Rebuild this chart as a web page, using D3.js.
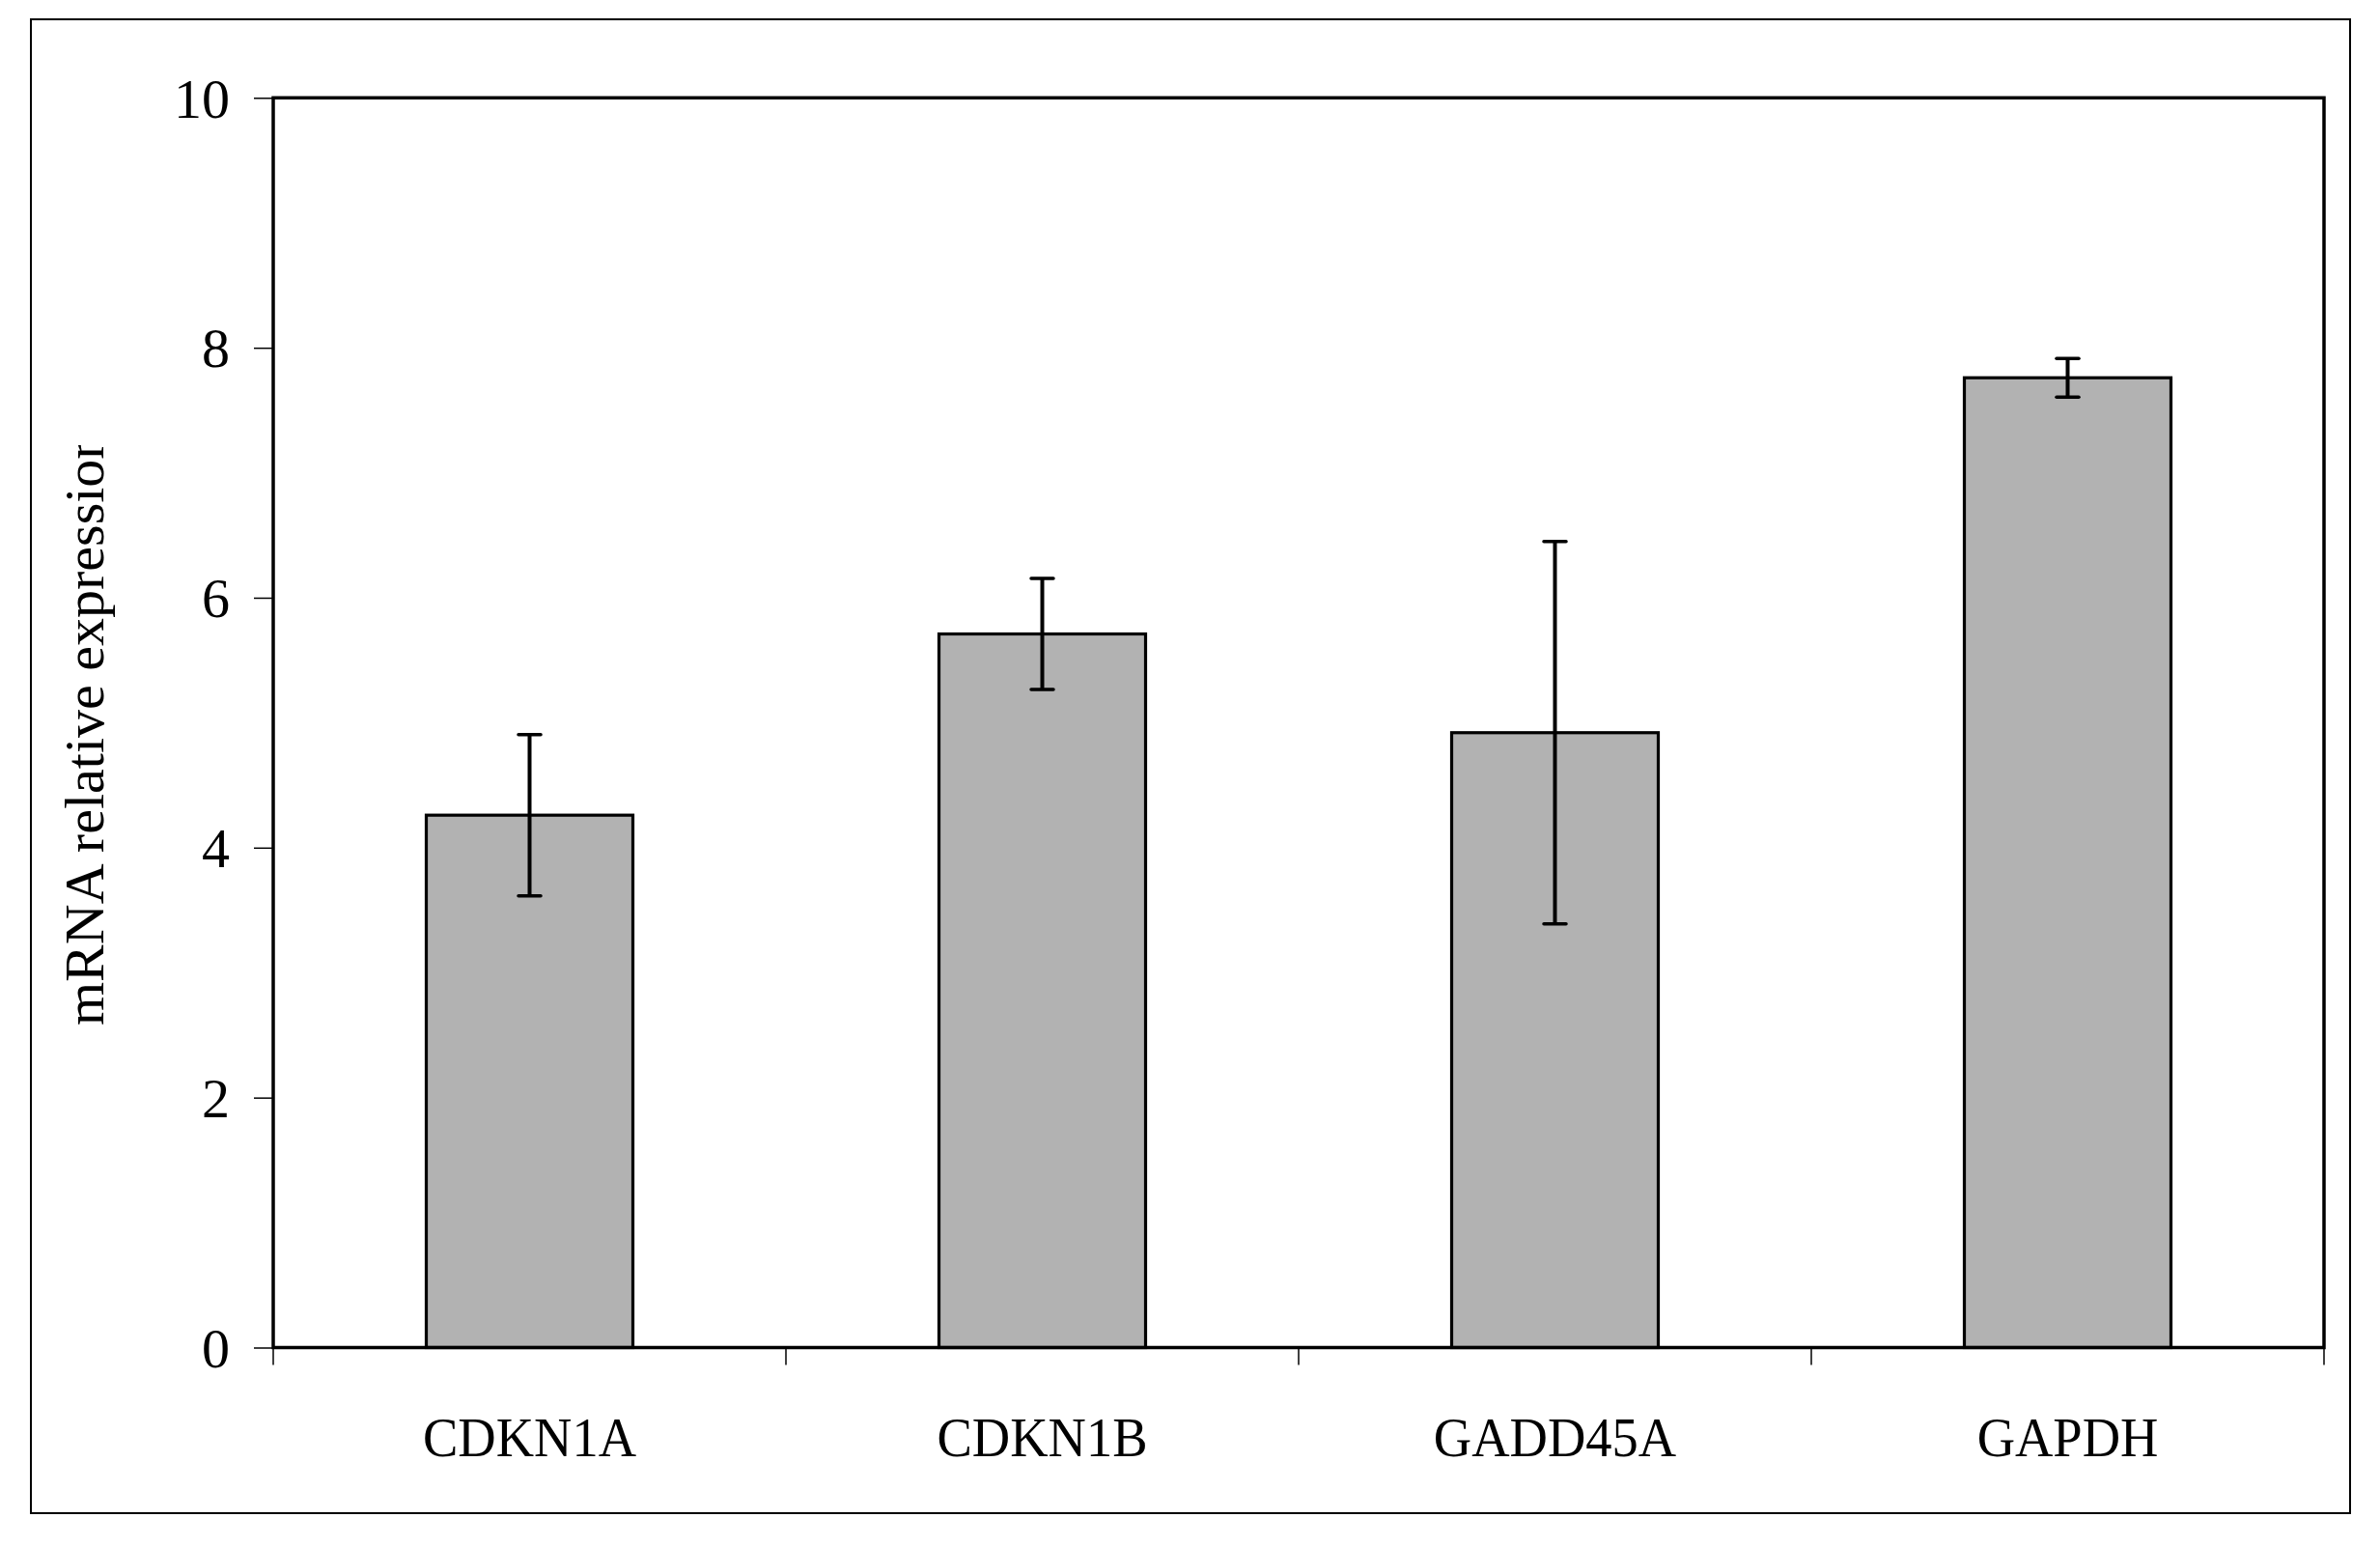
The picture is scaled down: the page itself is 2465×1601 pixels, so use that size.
<!DOCTYPE html>
<html>
<head>
<meta charset="utf-8">
<script src="https://cdn.jsdelivr.net/npm/d3@7"></script>
<style>
  html, body { margin: 0; padding: 0; background: #fff; }
  svg { display: block; }
  text { font-family: "Liberation Serif", "Times New Roman", serif; fill: #000; }
</style>
</head>
<body>
<svg id="chart" width="2465" height="1601"></svg>
<script>
const categories = ["CDKN1A", "CDKN1B", "GADD45A", "GAPDH"];
const values = [4.26, 5.71, 4.92, 7.76];
const errors = [0.645, 0.445, 1.53, 0.155];
const yTicks = [0, 2, 4, 6, 8, 10];
const yLabel = "mRNA relative expression";

const svg = d3.select("#chart");
const W = 2465, H = 1601;
const plot = { left: 283, right: 2407, top: 101.3, bottom: 1395.5 };

svg.append("rect").attr("width", W).attr("height", H).attr("fill", "#fff");

// outer border
svg.append("rect")
  .attr("x", 32).attr("y", 20).attr("width", 2434 - 32).attr("height", 1567 - 20)
  .attr("fill", "none").attr("stroke", "#000").attr("stroke-width", 2);

const x = d3.scaleBand().domain(categories)
  .range([plot.left, plot.right]).paddingInner(0.597).paddingOuter(0.2985);
const y = d3.scaleLinear().domain([0, 10]).range([plot.bottom, plot.top]);

// y axis ticks and labels
const yAxis = d3.axisLeft(y).tickValues(yTicks).tickSize(20).tickPadding(25).tickFormat(d3.format("d"));
const gy = svg.append("g").attr("transform", `translate(${plot.left},0)`).call(yAxis);
gy.select(".domain").remove();
gy.selectAll(".tick line").attr("stroke", "#000").attr("stroke-width", 1.5);
gy.selectAll(".tick text")
  .attr("font-size", 58).attr("dy", "0.34em").attr("x", -45)
  .style("font-family", "'Liberation Serif', serif");

// x axis: ticks at band boundaries
const step = x.step();
const boundaries = d3.range(categories.length + 1).map(i => plot.left + i * step);
svg.append("g").selectAll("line").data(boundaries).join("line")
  .attr("x1", d => d).attr("x2", d => d)
  .attr("y1", plot.bottom).attr("y2", plot.bottom + 18)
  .attr("stroke", "#000").attr("stroke-width", 1.5);

// category labels
svg.append("g").selectAll("text").data(categories).join("text")
  .attr("transform", d => `translate(${x(d) + x.bandwidth() / 2},1508) scale(0.94,1)`)
  .attr("text-anchor", "middle").attr("font-size", 58)
  .text(d => d);

// bars
svg.append("g").selectAll("rect").data(categories).join("rect")
  .attr("x", d => x(d)).attr("width", x.bandwidth())
  .attr("y", (d, i) => y(values[i]))
  .attr("height", (d, i) => y(0) - y(values[i]))
  .attr("fill", "#b2b2b2").attr("stroke", "#000").attr("stroke-width", 3.2);

// error bars
const eg = svg.append("g");
categories.forEach((c, i) => {
  const cx = x(c) + x.bandwidth() / 2;
  const hi = y(values[i] + errors[i]), lo = y(values[i] - errors[i]);
  eg.append("line").attr("x1", cx).attr("x2", cx).attr("y1", hi).attr("y2", lo)
    .attr("stroke", "#000").attr("stroke-width", 4);
  [hi, lo].forEach(v => {
    eg.append("line").attr("x1", cx - 11.5).attr("x2", cx + 11.5).attr("y1", v).attr("y2", v)
      .attr("stroke", "#000").attr("stroke-width", 3.5).attr("stroke-linecap", "round");
  });
});

// plot frame
svg.append("rect")
  .attr("x", plot.left).attr("y", plot.top)
  .attr("width", plot.right - plot.left).attr("height", plot.bottom - plot.top)
  .attr("fill", "none").attr("stroke", "#000").attr("stroke-width", 3.5);

// y axis label (clipped at top as in the original)
const defs = svg.append("defs");
defs.append("clipPath").attr("id", "ylabclip")
  .append("rect").attr("x", 0).attr("y", 461).attr("width", 200).attr("height", 800);
svg.append("g").attr("clip-path", "url(#ylabclip)")
  .append("text")
  .attr("transform", "translate(107,1062) rotate(-90)")
  .attr("font-size", 58)
  .text(yLabel);
</script>
</body>
</html>
